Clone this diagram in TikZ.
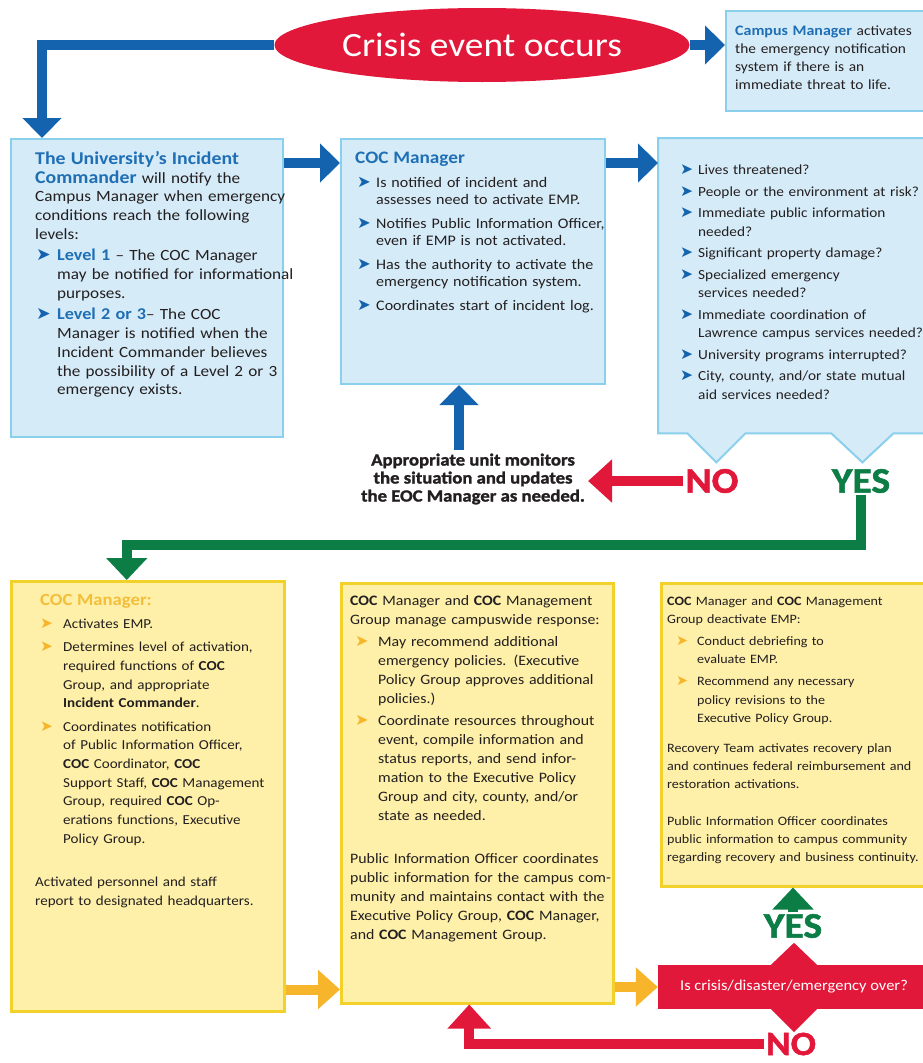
\documentclass[tikz,border=0pt]{standalone}
\usepackage{fontspec}
\setmainfont{Carlito}[FakeStretch=1.1]
\newfontfamily\symfont{DejaVu Sans}
\newfontfamily\heavyfont{Carlito}[FakeStretch=1.1, BoldFeatures={FakeBold=1.5}]
\usetikzlibrary{shapes.geometric,arrows.meta}
\definecolor{boxblue}{HTML}{D6EBF8}
\definecolor{edgeblue}{HTML}{8ACFEC}
\definecolor{arrowblue}{HTML}{1463AE}
\definecolor{headblue}{HTML}{1F6FB5}
\definecolor{crisisred}{HTML}{E2183A}
\definecolor{yesgreen}{HTML}{0B7D45}
\definecolor{boxyellow}{HTML}{FEF0A8}
\definecolor{edgeyellow}{HTML}{F2D12A}
\definecolor{arroworange}{HTML}{F7B52B}
\definecolor{cocgold}{HTML}{F3BE3A}
\definecolor{ink}{HTML}{231F20}
\newlength{\bltw}
\setlength{\bltw}{20pt}
\newcommand{\blt}[3][0pt]{\par\hangindent=\dimexpr#1+\bltw\relax\hangafter=1\noindent\hspace*{#1}\makebox[\bltw][l]{\scalebox{1.12}{\symfont\textcolor{#2}{➤}}}#3\par}
\tikzset{
  bluebox/.style={draw=edgeblue, fill=boxblue, line width=2pt, inner sep=0pt, anchor=north west},
  calloutline/.style={draw=edgeblue, fill=boxblue, line width=2pt},
  yellowbox/.style={draw=edgeyellow, fill=boxyellow, line width=2.5pt, inner sep=0pt, anchor=north west},
  boxtext/.style={anchor=north west, inner sep=0pt, align=left, text=ink},
  eventshape/.style={ellipse, fill=crisisred, text=white, minimum width=415pt, minimum height=74pt, inner sep=0pt, font=\fontsize{34}{34}\selectfont},
  decision/.style={rectangle, fill=crisisred, text=white, minimum width=272pt, minimum height=44pt, inner sep=0pt, font=\fontsize{15}{15}\selectfont},
  answer/.style={inner sep=2pt, font=\heavyfont\fontsize{36}{36}\selectfont\bfseries},
  notelabel/.style={align=center, inner sep=3pt, text=ink, font=\heavyfont\fontsize{17}{18}\selectfont\bfseries},
  flow/.style={line width=10pt},
  bluearrow/.style={flow, draw=arrowblue, -{Triangle[width=38pt,length=20pt]}},
  greenarrow/.style={flow, draw=yesgreen, -{Triangle[width=40pt,length=22pt]}},
  redarrow/.style={flow, draw=crisisred, -{Triangle[width=42pt,length=24pt]}},
  orangearrow/.style={flow, draw=arroworange, -{Triangle[width=38pt,length=22pt]}},
}
\begin{document}
\begin{tikzpicture}[x=1pt,y=-1pt]
  \useasboundingbox (0,0) rectangle (923,1063);
  \clip (0,0) rectangle (923,1063);
  \fill[white] (0,0) rectangle (923,1063);

  % crisis event and campus manager
  \node[eventshape] (crisis) at (482,45) {Crisis event occurs};
  \node[bluebox, minimum width=210pt, minimum height=100pt] (campus) at (725,10) {};
  \node[boxtext, text width=200pt, font=\fontsize{14}{18}\selectfont] (campustxt) at (735,26)
    {\hangindent=5pt\hangafter=1{\fontsize{14.5}{18}\selectfont\bfseries\color{headblue}Campus Manager} activates\newline the emergency notification\newline system if there is an\newline immediate threat to life.};

  % first row
  \node[bluebox, minimum width=272pt, minimum height=298pt] (incident) at (10,138) {};
  \node[bluebox, minimum width=264pt, minimum height=245pt] (cocmgr) at (340,138) {};
  \node[anchor=north west, inner sep=0pt, minimum width=280pt, minimum height=295pt] (questions) at (658,138) {};
  \draw[calloutline] (questions.north west) -- (questions.north east) -- (questions.south east)
    -- ++(-45pt,0) -- ++(-31pt,-29pt) -- ++(-31pt,29pt) -- ++(-86pt,0)
    -- ++(-29pt,-29pt) -- ++(-29pt,29pt) -- (questions.south west) -- cycle;

  \node[boxtext, text width=275pt, font=\fontsize{15.6}{18.8}\selectfont] (incidenttxt) at (35,151)
    {\setlength{\parskip}{2.5pt}\setlength{\bltw}{21pt}%
     {\fontsize{18}{18.8}\selectfont\bfseries\color{headblue}The University’s Incident\newline Commander} will notify the\newline Campus Manager when emergency\newline conditions reach the following\newline levels:\par
     \blt[1pt]{arrowblue}{{\fontsize{16.5}{18.8}\selectfont\bfseries\color{headblue}Level 1} – The COC Manager\newline may be notified for informational\newline purposes.}
     \blt[1pt]{arrowblue}{{\fontsize{16.5}{18.8}\selectfont\bfseries\color{headblue}Level 2 or 3}– The COC\newline Manager is notified when the\newline Incident Commander believes\newline the possibility of a Level 2 or 3\newline emergency exists.}};

  \node[boxtext, text width=265pt, font=\fontsize{14.6}{17.5}\selectfont] (cocmgrtxt) at (355,152)
    {\setlength{\parskip}{6pt}\setlength{\bltw}{19pt}%
     {\fontsize{17.5}{17.5}\selectfont\bfseries\color{headblue}COC Manager}\par
     \blt[2pt]{arrowblue}{Is notified of incident and\newline assesses need to activate EMP.}
     \blt[2pt]{arrowblue}{Notifies Public Information Officer,\newline even if EMP is not activated.}
     \blt[2pt]{arrowblue}{Has the authority to activate the\newline emergency notification system.}
     \blt[2pt]{arrowblue}{Coordinates start of incident log.}};

  \node[boxtext, text width=270pt, font=\fontsize{13.9}{18.5}\selectfont] (questionstxt) at (680,153)
    {\setlength{\parskip}{3pt}\setlength{\bltw}{18pt}%
     \blt{arrowblue}{Lives threatened?}
     \blt{arrowblue}{People or the environment at risk?}
     \blt{arrowblue}{Immediate public information\newline needed?}
     \blt{arrowblue}{Significant property damage?}
     \blt{arrowblue}{Specialized emergency\newline services needed?}
     \blt{arrowblue}{Immediate coordination of\newline Lawrence campus services needed?}
     \blt{arrowblue}{University programs interrupted?}
     \blt{arrowblue}{City, county, and/or state mutual\newline aid services needed?}};

  \node[notelabel] (monitor) at (473,479) {Appropriate unit monitors\\the situation and updates\\the EOC Manager as needed.};
  \node[answer, text=crisisred] (no1) at (712,481) {NO};
  \node[answer, text=yesgreen] (yes1) at (861,481) {YES};

  % second row
  \node[yellowbox, minimum width=273pt, minimum height=430pt] (activate) at (10,580) {};
  \node[yellowbox, minimum width=272pt, minimum height=420pt] (respond) at (340,582) {};
  \node[yellowbox, minimum width=275pt, minimum height=303pt] (recover) at (660,582) {};

  \node[boxtext, text width=270pt, font=\fontsize{13.7}{18.7}\selectfont] (activatetxt) at (35,594)
    {\setlength{\parskip}{4.5pt}\setlength{\bltw}{23pt}%
     \hspace*{5pt}{\fontsize{17}{18.7}\selectfont\bfseries\color{cocgold}COC Manager:}\par
     \blt[5pt]{arroworange}{Activates EMP.}
     \blt[5pt]{arroworange}{Determines level of activation,\newline required functions of \textbf{COC}\newline Group, and appropriate\newline \textbf{Incident Commander}.}
     \blt[5pt]{arroworange}{Coordinates notification\newline of Public Information Officer,\newline \textbf{COC} Coordinator, \textbf{COC}\newline Support Staff, \textbf{COC} Management\newline Group, required \textbf{COC} Op-\newline erations functions, Executive\newline Policy Group.}
     \vspace{20pt}Activated personnel and staff\newline report to designated headquarters.};

  \node[boxtext, text width=290pt, font=\fontsize{14.4}{19}\selectfont] (respondtxt) at (350,595)
    {\setlength{\parskip}{3pt}\setlength{\bltw}{23pt}%
     \textbf{COC} Manager and \textbf{COC} Management\newline Group manage campuswide response:\par
     \blt[5pt]{arroworange}{May recommend additional\newline emergency policies. (Executive\newline Policy Group approves additional\newline policies.)}
     \blt[5pt]{arroworange}{Coordinate resources throughout\newline event, compile information and\newline status reports, and send infor-\newline mation to the Executive Policy\newline Group and city, county, and/or\newline state as needed.}
     \vspace{21pt}Public Information Officer coordinates\newline public information for the campus com-\newline munity and maintains contact with the\newline Executive Policy Group, \textbf{COC} Manager,\newline and \textbf{COC} Management Group.};

  \node[boxtext, text width=300pt, font=\fontsize{12.8}{18.2}\selectfont] (recovertxt) at (667,596)
    {\setlength{\parskip}{4pt}\setlength{\bltw}{21pt}%
     \textbf{COC} Manager and \textbf{COC} Management\newline Group deactivate EMP:\par
     \blt[9pt]{arroworange}{Conduct debriefing to\newline evaluate EMP.}
     \blt[9pt]{arroworange}{Recommend any necessary\newline policy revisions to the\newline Executive Policy Group.}
     \vspace{8pt}Recovery Team activates recovery plan\newline and continues federal reimbursement and\newline restoration activations.\par
     \vspace{14pt}Public Information Officer coordinates\newline public information to campus community\newline regarding recovery and business continuity.};

  % decision
  \node[decision] (decide) at (794,987) {Is crisis/disaster/emergency over?};
  \fill[crisisred] ([xshift=-23pt]decide.north) -- ++(23pt,22pt) -- ++(23pt,-22pt) -- cycle;
  \fill[crisisred] ([xshift=-23pt]decide.south) -- ++(23pt,-23pt) -- ++(23pt,23pt) -- cycle;
  \node[answer, text=yesgreen] (yes2) at (793,926) {YES};
  \node[answer, text=crisisred, font=\heavyfont\fontsize{34}{34}\selectfont\bfseries] (no2) at (791,1044) {NO};

  % connectors
  \draw[bluearrow] (crisis.west) -| ([xshift=32pt]incident.north west);
  \draw[bluearrow] (crisis.east) -- (crisis.east -| campus.west);
  \draw[bluearrow] ([yshift=-25pt]incident.north east) -- ([yshift=-25pt]cocmgr.north west);
  \draw[bluearrow] ([yshift=-25pt]cocmgr.north east) -- ([yshift=-25pt]questions.north west);
  \draw[bluearrow] ([xshift=-14pt]monitor.north) -- ([xshift=-14pt]cocmgr.south);
  \draw[redarrow] (no1.west) -- (no1.west -| monitor.east);
  \draw[greenarrow] (yes1.south) |- ([xshift=-21pt,yshift=35pt]activate.north) -- ([xshift=-21pt]activate.north);
  \draw[orangearrow] ([yshift=23pt]activate.south east) -- ([yshift=23pt]activate.south east -| respond.west);
  \draw[orangearrow] (decide.west -| respond.east) -- (decide.west);
  \draw[greenarrow] (yes2.north) -- (yes2.north |- recover.south);
  \draw[redarrow] (no2.west) -| ([xshift=-8pt]respond.south);
\end{tikzpicture}
\end{document}
